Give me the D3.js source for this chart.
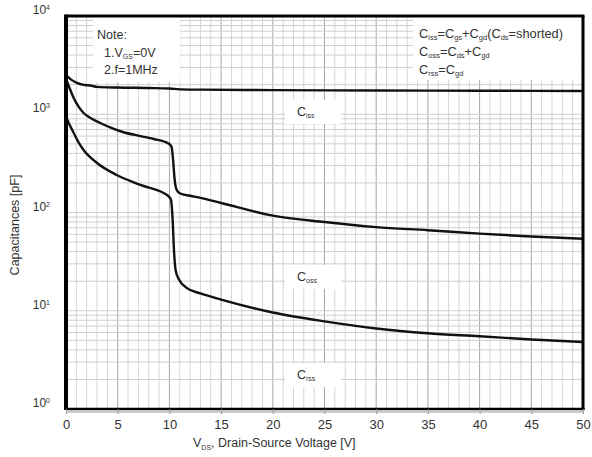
<!DOCTYPE html>
<html>
<head>
<meta charset="utf-8">
<script src="https://cdn.jsdelivr.net/npm/d3@7"></script>
<style>
  body { margin: 0; background: #fff; }
  text { font-family: "Liberation Sans", Arial, sans-serif; fill: #333; }
</style>
</head>
<body>
<div class="chart"></div>
<script>
var svgWidth = 592;
var svgHeight = 457;

var margin = { top: 16, right: 9, bottom: 48, left: 66 };
var width = svgWidth - margin.left - margin.right;
var height = svgHeight - margin.top - margin.bottom;

// data (V in volts, C in pF)
var cissV = [0, 0.5, 1, 1.6, 2.5, 3, 5, 8, 10, 11, 13, 20, 30, 40, 50];
var cissC = [2500, 2250, 2100, 2000, 1950, 1900, 1870, 1850, 1830, 1790, 1780, 1760, 1745, 1735, 1725];

var cossV = [0, 0.3, 0.7, 1.2, 1.7, 2.5, 3.3, 4.5, 5.5, 7.2, 8.5, 9.9, 10.2, 10.35, 10.5, 10.7, 11, 12, 13, 15, 20, 25, 30, 35, 40, 45, 50];
var cossC = [2300, 1900, 1500, 1200, 1030, 900, 815, 720, 660, 600, 560, 505, 470, 350, 220, 170, 157, 148, 141, 125, 93, 80, 71, 66, 61, 57, 54];

var crssV = [0, 0.3, 0.7, 1.2, 1.7, 3, 4.9, 7.2, 9.9, 10.15, 10.3, 10.45, 10.6, 10.9, 11.7, 13, 15, 20, 25, 30, 35, 40, 45, 50];
var crssC = [950, 800, 660, 520, 433, 319, 241, 191, 147, 135, 90, 40, 26, 21, 17, 15, 13, 9.6, 7.8, 6.6, 5.9, 5.5, 5.1, 4.8];

var xTicks = [0, 5, 10, 15, 20, 25, 30, 35, 40, 45, 50];
var yDecades = [0, 1, 2, 3, 4];

var svg = d3.select(".chart").append("svg")
  .attr("width", svgWidth)
  .attr("height", svgHeight);

var chartGroup = svg.append("g")
  .attr("transform", `translate(${margin.left}, ${margin.top})`);

var xScale = d3.scaleLinear().domain([0, 50]).range([0, width]);
var yScale = d3.scaleLog().domain([1, 10000]).range([height, 0]);

// vertical grid: every 1 V, darker every 5 V
var vLines = d3.range(0, 51);
chartGroup.selectAll(".vgrid")
  .data(vLines)
  .enter()
  .append("line")
  .attr("x1", d => xScale(d))
  .attr("x2", d => xScale(d))
  .attr("y1", 0)
  .attr("y2", height)
  .attr("stroke", d => d % 5 === 0 ? "#a8a8a8" : "#d4d4d4")
  .attr("stroke-width", 1);

// horizontal grid: log minor lines
var hLines = [];
[0, 1, 2, 3].forEach(function(e) {
  for (var k = 1; k <= 9; k++) hLines.push(k * Math.pow(10, e));
});
chartGroup.selectAll(".hgrid")
  .data(hLines)
  .enter()
  .append("line")
  .attr("x1", 0)
  .attr("x2", width)
  .attr("y1", d => yScale(d))
  .attr("y2", d => yScale(d))
  .attr("stroke", "#cfcfcf")
  .attr("stroke-width", 1);

// note box and formula box (white, over the grid)
chartGroup.append("rect")
  .attr("x", 27).attr("y", 0).attr("width", 87).attr("height", 66)
  .attr("fill", "#fff");
chartGroup.append("rect")
  .attr("x", 347).attr("y", 0).attr("width", 168).attr("height", 64)
  .attr("fill", "#fff");

// curve label boxes
var curveLabels = [
  { sub: "iss", x: 297, y: 116 },
  { sub: "oss", x: 297, y: 281 },
  { sub: "rss", x: 297, y: 379 }
];
curveLabels.forEach(function(l) {
  chartGroup.append("rect")
    .attr("x", l.x - margin.left - 12).attr("y", l.y - margin.top - 16)
    .attr("width", 56).attr("height", 24)
    .attr("fill", "#fff");
});

// curves
var line = d3.line()
  .x(d => xScale(d[0]))
  .y(d => yScale(d[1]))
  .curve(d3.curveMonotoneX);

[[cissV, cissC], [cossV, cossC], [crssV, crssC]].forEach(function(s) {
  chartGroup.append("path")
    .datum(d3.zip(s[0], s[1]))
    .attr("d", line)
    .attr("fill", "none")
    .attr("stroke", "#111")
    .attr("stroke-width", 2.4);
});

// frame
chartGroup.append("line").attr("x1", 0).attr("x2", 0).attr("y1", -1.5).attr("y2", height + 1)
  .attr("stroke", "#000").attr("stroke-width", 4);
chartGroup.append("line").attr("x1", 0).attr("x2", width + 1.5).attr("y1", 0).attr("y2", 0)
  .attr("stroke", "#000").attr("stroke-width", 3);
chartGroup.append("line").attr("x1", width).attr("x2", width).attr("y1", 0).attr("y2", height + 1)
  .attr("stroke", "#000").attr("stroke-width", 3);
chartGroup.append("line").attr("x1", 0).attr("x2", width + 1.5).attr("y1", height).attr("y2", height)
  .attr("stroke", "#000").attr("stroke-width", 2.5);
chartGroup.append("line").attr("x1", 0).attr("x2", width).attr("y1", height + 3).attr("y2", height + 3)
  .attr("stroke", "#999").attr("stroke-width", 1);

// x axis
var xAxis = chartGroup.append("g")
  .attr("transform", `translate(0, ${height})`)
  .call(d3.axisBottom(xScale).tickValues(xTicks).tickSize(5).tickPadding(6));
xAxis.select(".domain").remove();
xAxis.selectAll("line").attr("stroke", "#999");
xAxis.selectAll("text").attr("font-size", 13).attr("fill", "#333")
  .style("font-family", "Liberation Sans, Arial, sans-serif");

// y axis labels 10^n
var yLab = chartGroup.selectAll(".ylab")
  .data(yDecades)
  .enter()
  .append("text")
  .attr("x", -16)
  .attr("y", d => yScale(Math.pow(10, d)) - 2)
  .attr("text-anchor", "end")
  .attr("font-size", 12);
yLab.append("tspan").text("10");
yLab.append("tspan").attr("font-size", 7).attr("dy", -4).text(d => d);

// axis titles
var xt = svg.append("text").attr("x", 193).attr("y", 447).attr("font-size", 12.5);
xt.append("tspan").text("V");
xt.append("tspan").attr("font-size", 7).attr("dy", 3).text("DS");
xt.append("tspan").attr("dy", -3).text(", Drain-Source Voltage [V]");

svg.append("text")
  .attr("transform", "translate(19, 225) rotate(-90)")
  .attr("text-anchor", "middle")
  .attr("font-size", 12.5)
  .text("Capacitances [pF]");

// note text
svg.append("text").attr("x", 97).attr("y", 39).attr("font-size", 12.5).text("Note:");
var n1 = svg.append("text").attr("x", 104).attr("y", 57).attr("font-size", 12.5);
n1.append("tspan").text("1.V");
n1.append("tspan").attr("font-size", 7).attr("dy", 2).text("GS");
n1.append("tspan").attr("dy", -2).text("=0V");
svg.append("text").attr("x", 104).attr("y", 74).attr("font-size", 12.5).text("2.f=1MHz");

// formula text: [text, isSubscript]
function formula(y, parts) {
  var t = svg.append("text").attr("x", 419).attr("y", y).attr("font-size", 12.8);
  var low = false;
  parts.forEach(function(p) {
    var sub = !!p[1];
    var ts = t.append("tspan").text(p[0]);
    if (sub) ts.attr("font-size", 7.5);
    if (sub && !low) ts.attr("dy", 2);
    if (!sub && low) ts.attr("dy", -2);
    low = sub;
  });
}
formula(38, [["C"], ["iss", 1], ["=C"], ["gs", 1], ["+C"], ["gd", 1], ["(C"], ["ds", 1], ["=shorted)"]]);
formula(56, [["C"], ["oss", 1], ["=C"], ["ds", 1], ["+C"], ["gd", 1]]);
formula(74, [["C"], ["rss", 1], ["=C"], ["gd", 1]]);

// curve labels
curveLabels.forEach(function(l) {
  var t = svg.append("text").attr("x", l.x).attr("y", l.y).attr("font-size", 12.5);
  t.append("tspan").text("C");
  t.append("tspan").attr("font-size", 7).attr("dy", 2).text(l.sub);
});
</script>
</body>
</html>
